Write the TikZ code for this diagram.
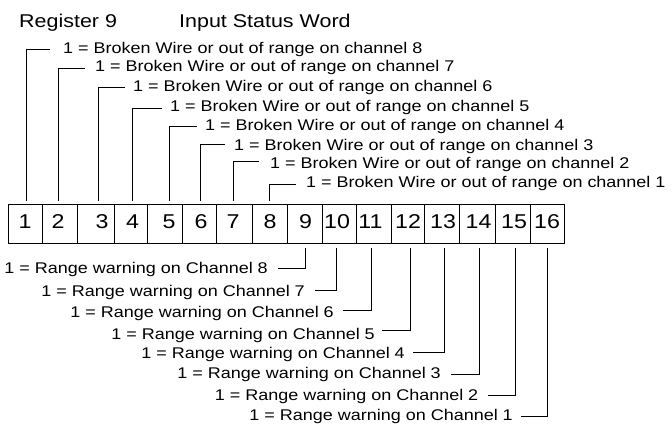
\documentclass[tikz,border=0pt]{standalone}
\usepackage{fontspec}
\setmainfont[FakeStretch=1.16]{Liberation Sans}
\begin{document}
\begin{tikzpicture}[x=1pt,y=-1pt,
  lbl/.style={inner sep=0pt, font=\fontsize{15.5}{18}\selectfont},
  ttl/.style={inner sep=0pt, font=\fontsize{18.5}{22}\selectfont, anchor=base west},
  num/.style={inner sep=0pt, font=\fontsize{20}{24}\selectfont, anchor=base},
  cell/.style={draw, line width=0.9pt, minimum height=39pt, inner sep=0pt},
  wire/.style={line width=0.9pt}]
\useasboundingbox (0,0) rectangle (672,426);
% titles
\node[ttl] (reg) at (19,27) {Register 9};
\node[ttl] (isw) at (179,27) {Input Status Word};
% cells of the word
\foreach \i/\a/\b in {1/8/42.3, 2/42.3/77.3, 3/77.3/114, 4/114/147.7, 5/147.7/182.7,
  6/182.7/216.7, 7/216.7/252.3, 8/252.3/287.7, 9/287.7/322.3, 10/322.3/356,
  11/356/391, 12/391/424.7, 13/424.7/459, 14/459/495, 15/495/530, 16/530/564.3}
  \node[cell, minimum width={(\b-\a)*1pt}] (c\i) at ({(\a+\b)/2},223.5) {};
% bit numbers
\foreach \i/\x in {1/25, 2/58, 3/102, 4/132.5, 5/169, 6/201, 7/233, 8/270,
  9/305.5, 10/337, 11/370.5, 12/408, 13/443, 14/478.5, 15/514, 16/547}
  \node[num] (n\i) at (\x,228) {\i};
% upper labels
\foreach \i/\tx/\ly/\rx/\wx/\bl/\ch in {1/26/49/50/63/53.3/8, 2/58/68.3/85/95/71.7/7,
  3/98/87.3/125/133/91.7/6, 4/132/108.3/162/170/111.7/5, 5/169/126/197/205/130/4,
  6/200.5/144.7/225/234/150/3, 7/233.5/161.5/259/270/168.3/2, 8/269.5/184.5/296/306/187.7/1}
{
  \coordinate (tk\i) at (\tx,201);
  \coordinate (te\i) at (\rx,\ly);
  \draw[wire] (te\i) -| (tk\i);
  \node[lbl, anchor=base west] (tl\i) at (\wx,\bl) {1 = Broken Wire or out of range on channel \ch};
}
% lower labels
\foreach \i/\tx/\ly/\lx/\ex/\bl/\ch in {9/305/268.3/278/268/273.3/8, 10/336/290.7/315/305/296.7/7,
  11/371/310/343/334/317.3/6, 12/410.5/330/382/375/339/5, 13/444/352.3/413/405/358.3/4,
  14/479/374.3/451/441/378.3/3, 15/515/395/488/478.5/400/2, 16/547/416.7/521/513/420/1}
{
  \coordinate (tk\i) at (\tx,248);
  \coordinate (te\i) at (\lx,\ly);
  \draw[wire] (te\i) -| (tk\i);
  \node[lbl, anchor=base east] (tl\i) at (\ex,\bl) {1 = Range warning on Channel \ch};
}
\end{tikzpicture}
\end{document}
